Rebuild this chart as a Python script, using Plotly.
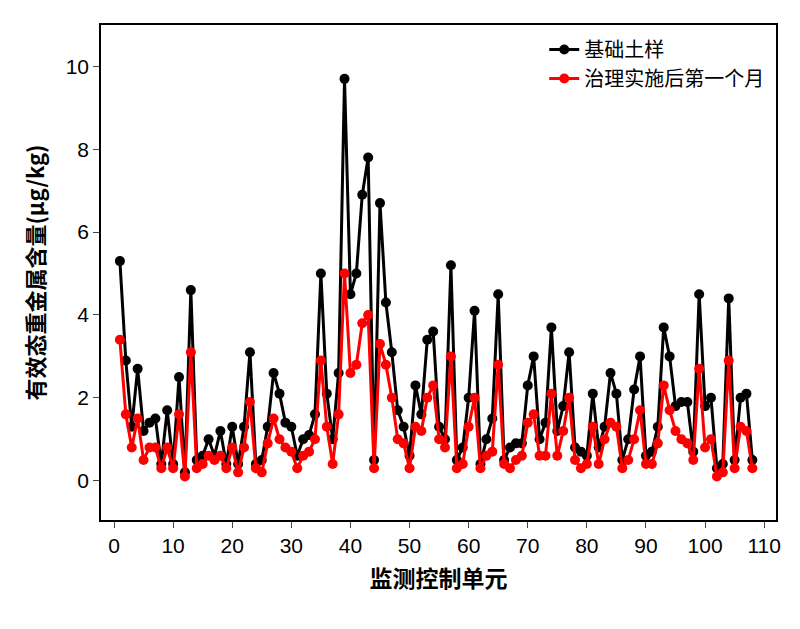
import plotly.graph_objects as go

units = list(range(1, 109))
base = [5.3,2.9,1.3,2.7,1.2,1.4,1.5,0.4,1.7,0.4,2.5,0.2,4.6,0.5,0.6,1.0,0.6,1.2,0.4,1.3,
        0.4,1.3,3.1,0.4,0.5,1.3,2.6,2.1,1.4,1.3,0.6,1.0,1.1,1.6,5.0,2.1,1.0,2.6,9.7,4.5,
        5.0,6.9,7.8,0.5,6.7,4.3,3.1,1.7,1.3,0.6,2.3,1.6,3.4,3.6,1.3,1.0,5.2,0.5,0.8,2.0,
        4.1,0.4,1.0,1.5,4.5,0.5,0.8,0.9,0.9,2.3,3.0,1.0,1.4,3.7,1.2,1.8,3.1,0.8,0.7,0.6,
        2.1,0.8,1.3,2.6,2.1,0.5,1.0,2.2,3.0,0.6,0.7,1.3,3.7,3.0,1.8,1.9,1.9,0.7,4.5,1.8,
        2.0,0.3,0.4,4.4,0.5,2.0,2.1,0.5]
after = [3.4,1.6,0.8,1.5,0.5,0.8,0.8,0.3,0.8,0.3,1.6,0.1,3.1,0.3,0.4,0.6,0.5,0.6,0.3,0.8,
         0.2,0.8,1.9,0.3,0.2,0.9,1.5,1.0,0.8,0.7,0.3,0.6,0.7,1.0,2.9,1.3,0.4,1.6,5.0,2.6,
         2.8,3.8,4.0,0.3,3.3,2.8,2.0,1.0,0.9,0.3,1.3,1.2,2.0,2.3,1.0,0.8,3.0,0.3,0.4,1.3,
         2.0,0.3,0.6,0.7,2.8,0.4,0.3,0.5,0.6,1.4,1.6,0.6,0.6,2.1,0.6,1.2,2.0,0.5,0.3,0.4,
         1.3,0.4,1.0,1.4,1.3,0.3,0.5,1.0,1.7,0.4,0.4,0.9,2.3,1.7,1.2,1.0,0.9,0.5,2.7,0.8,
         1.0,0.1,0.2,2.9,0.3,1.3,1.2,0.3]

font = "Liberation Sans"
fig = go.Figure()
fig.add_trace(go.Scatter(x=units, y=base, mode="lines+markers", name="基础土样",
                         line=dict(color="black", width=3), marker=dict(color="black", size=10)))
fig.add_trace(go.Scatter(x=units, y=after, mode="lines+markers", name="治理实施后第一个月",
                         line=dict(color="red", width=3), marker=dict(color="red", size=10)))
fig.update_layout(
    width=800, height=629, plot_bgcolor="white", paper_bgcolor="white",
    margin=dict(l=93, r=32, t=17, b=117),
    font=dict(family=font, size=21, color="black"),
    legend=dict(x=0.99, y=0.99, xanchor="right", yanchor="top", bgcolor="rgba(0,0,0,0)",
                font=dict(size=20, family="Noto Sans CJK SC")),
    xaxis=dict(range=[-2.2, 112], tickvals=list(range(0, 111, 10)), showline=True, mirror=True,
               linecolor="black", linewidth=1.5, ticks="outside", ticklen=6, showgrid=False,
               zeroline=False,
               title=dict(text="<b>监测控制单元</b>", font=dict(family="Noto Sans CJK SC", size=23))),
    yaxis=dict(range=[-0.95, 11], tickvals=[0, 2, 4, 6, 8, 10], showline=True, mirror=True,
               linecolor="black", linewidth=1.5, ticks="outside", ticklen=6, showgrid=False,
               zeroline=False,
               title=dict(text="<b>有效态重金属含量(μg/kg)</b>", font=dict(family="Noto Sans CJK SC", size=22))),
)
fig.write_html("out.html")
